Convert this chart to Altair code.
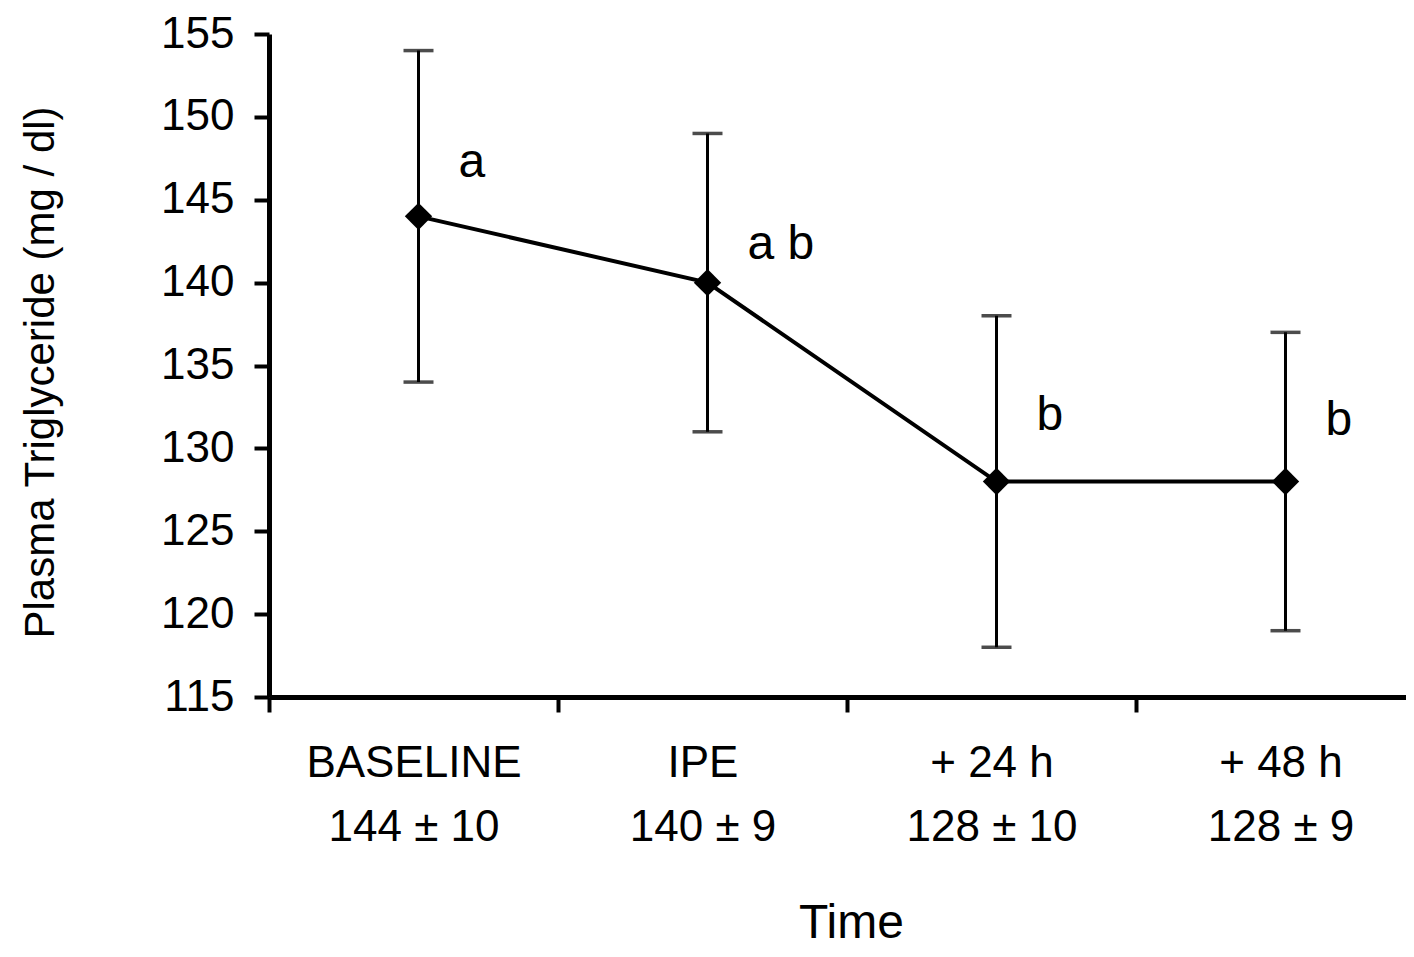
import altair as alt
import pandas as pd

# Values
times = ["BASELINE", "IPE", "+ 24 h", "+ 48 h"]
means = [144, 140, 128, 128]
sds = [10, 9, 10, 9]
letters = ["a", "a b", "b", "b"]
letter_y = [146.4, 141.4, 131.1, 130.8]
y_ticks = [115, 120, 125, 130, 135, 140, 145, 150, 155]

labels = [f"{t}|{m} ± {s}" for t, m, s in zip(times, means, sds)]
df = pd.DataFrame({
    "label": labels,
    "mean": means,
    "low": [m - s for m, s in zip(means, sds)],
    "high": [m + s for m, s in zip(means, sds)],
    "letter": letters,
    "letter_y": letter_y,
})

FONT = "Liberation Sans"
XOFF = 5

x_enc = alt.X(
    "label:N",
    sort=labels,
    scale=alt.Scale(range=[0, 1156], paddingInner=0, paddingOuter=0),
    axis=alt.Axis(
        title="Time",
        titleFont=FONT, titleFontSize=48, titleFontWeight="normal", titleColor="black",
        titleX=582, titleY=240, titleBaseline="alphabetic",
        labelFont=FONT, labelFontSize=44, labelColor="black",
        labelExpr="split(datum.label, '|')", labelLineHeight=64,
        labelPadding=29, labelLimit=0, labelAngle=0,
        tickBand="extent", tickSize=15, tickWidth=4, tickColor="black",
        domainColor="black", domainWidth=5, grid=False,
    ),
)

y_scale = alt.Scale(domain=[115, 155], nice=False, zero=False)
y_axis = alt.Axis(
    title="Plasma Triglyceride (mg / dl)",
    titleFont=FONT, titleFontSize=42, titleFontWeight="normal", titleColor="black",
    titleX=-216, titleY=338, titleBaseline="alphabetic", titleLimit=1000,
    values=y_ticks,
    labelFont=FONT, labelFontSize=44, labelColor="black", labelPadding=20,
    tickSize=15, tickWidth=4, tickColor="black",
    domainColor="black", domainWidth=5, grid=False,
)

base = alt.Chart(df)

bars = base.mark_rule(color="black", strokeWidth=3, xOffset=XOFF).encode(
    x=x_enc, y=alt.Y("low:Q", scale=y_scale, axis=y_axis), y2="high:Q"
)
cap_lo = base.mark_tick(color="black", orient="horizontal", size=30, thickness=3.5, xOffset=XOFF).encode(
    x=x_enc, y=alt.Y("low:Q", scale=y_scale, axis=y_axis)
)
cap_hi = base.mark_tick(color="black", orient="horizontal", size=30, thickness=3.5, xOffset=XOFF).encode(
    x=x_enc, y=alt.Y("high:Q", scale=y_scale, axis=y_axis)
)
line = base.mark_line(color="black", strokeWidth=4, xOffset=XOFF).encode(
    x=x_enc, y=alt.Y("mean:Q", scale=y_scale, axis=y_axis)
)
pts = base.mark_point(shape="diamond", filled=True, color="black", size=750, opacity=1, xOffset=XOFF).encode(
    x=x_enc, y=alt.Y("mean:Q", scale=y_scale, axis=y_axis)
)
txt = base.mark_text(font=FONT, fontSize=48, color="black", align="left", baseline="alphabetic", dx=40 + XOFF).encode(
    x=x_enc, y=alt.Y("letter_y:Q", scale=y_scale, axis=y_axis), text="letter:N"
)

chart = (
    alt.layer(bars, cap_lo, cap_hi, line, pts, txt)
    .properties(
        width=1137,
        height=663,
        autosize=alt.AutoSizeParams(type="none"),
        padding={"left": 261, "top": 26, "right": 0, "bottom": 250},
        background="white",
    )
    .configure_view(stroke=None)
)

chart.save("out.html", embed_options={"renderer": "svg", "actions": False})
